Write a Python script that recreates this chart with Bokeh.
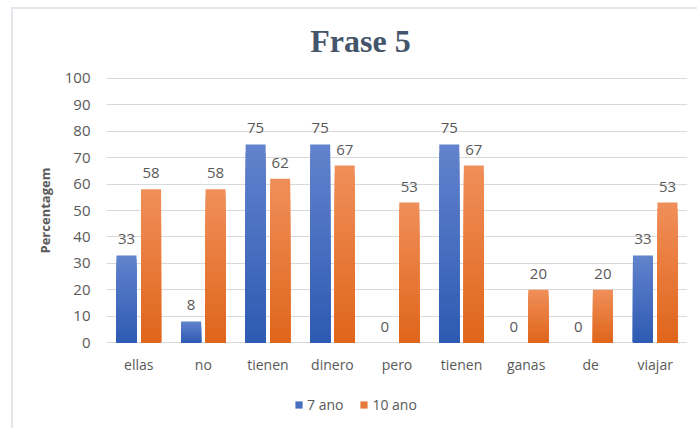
from bokeh.plotting import figure
from bokeh.models import ColumnDataSource, FixedTicker, Legend, LegendItem, Label
from bokeh.transform import dodge
from bokeh.core.properties import value
from bokeh.embed import file_html
from bokeh.resources import INLINE

title_text = "Frase 5"
categories = ["ellas", "no", "tienen", "dinero", "pero", "tienen", "ganas", "de", "viajar"]
series_names = ["7 ano", "10 ano"]
values_7 = [33, 8, 75, 75, 0, 75, 0, 0, 33]
values_10 = [58, 58, 62, 67, 53, 67, 20, 20, 53]
y_ticks = [0, 10, 20, 30, 40, 50, 60, 70, 80, 90, 100]
y_label = "Percentagem"

# gradient ends (bottom, top) for each series
BLUE_GRAD = ("#2E5AB2", "#6283CD")
ORANGE_GRAD = ("#DF651A", "#F08F5A")
TXT = "#595959"
GRID = "#D9D9D9"
FONT = "Open Sans"
N_LAYERS = 24


def mix(c1, c2, t):
    a = [int(c1[i:i + 2], 16) for i in (1, 3, 5)]
    b = [int(c2[i:i + 2], 16) for i in (1, 3, 5)]
    return "#%02x%02x%02x" % tuple(round(a[k] + (b[k] - a[k]) * t) for k in range(3))


def gradient_source(vals, grad):
    # each bar is drawn as overlapping layers from 0 up to a fraction of its value,
    # tallest (lightest) first, so no seams appear between colour bands
    d = dict(x=[], top=[], color=[])
    for k in range(N_LAYERS):
        frac = (N_LAYERS - k) / N_LAYERS
        t = (N_LAYERS - k - 0.5) / N_LAYERS
        for i, v in enumerate(vals):
            d["x"].append(i)
            d["top"].append(v * frac)
            d["color"].append(mix(grad[0], grad[1], t))
    return ColumnDataSource(d)


xs = list(range(len(categories)))
src = ColumnDataSource(dict(
    x=xs,
    base=[0] * len(categories),
    cat=categories,
    v7=values_7,
    v10=values_10,
    l7=[str(v) for v in values_7],
    l10=[str(v) for v in values_10],
))

p = figure(width=697, height=428, output_backend="svg", toolbar_location=None,
           x_range=(-0.5, len(categories) - 0.5), y_range=(-29.5, 129.5),
           min_border_left=106, min_border_right=10, min_border_top=0, min_border_bottom=8)
p.outline_line_color = None
p.background_fill_color = None
p.border_fill_color = None
p.styles = {
    "background-color": "white",
    "background-image": "linear-gradient(#E3E6EA, #E3E6EA), linear-gradient(#E3E6EA, #E3E6EA)",
    "background-size": "2px 100%, 100% 2px",
    "background-position": "11px 7px, 11px 7px",
    "background-repeat": "no-repeat",
}

off = 0.19
bw = 0.31
s7 = gradient_source(values_7, BLUE_GRAD)
s10 = gradient_source(values_10, ORANGE_GRAD)
r7 = p.vbar(x=dodge("x", -off), bottom=0, top="top", width=bw, source=s7,
            fill_color="color", line_color=None)
r10 = p.vbar(x=dodge("x", off), bottom=0, top="top", width=bw, source=s10,
             fill_color="color", line_color=None)

p.text(x=dodge("x", -off), y="v7", text="l7", source=src, text_align="center",
       text_baseline="bottom", y_offset=-11, text_font=value(FONT), text_font_size="15px",
       text_color=TXT)
p.text(x=dodge("x", off), y="v10", text="l10", source=src, text_align="center",
       text_baseline="bottom", y_offset=-11, text_font=value(FONT), text_font_size="15px",
       text_color=TXT)

# category labels under the zero line
p.text(x="x", y="base", text="cat", source=src, text_align="center", text_baseline="middle",
       y_offset=22, text_font=value(FONT), text_font_size="14px", text_color=TXT)

p.xaxis.visible = False

p.yaxis.ticker = FixedTicker(ticks=y_ticks)
p.yaxis.axis_line_color = None
p.yaxis.major_tick_line_color = None
p.yaxis.minor_tick_line_color = None
p.yaxis.major_tick_out = 0
p.yaxis.major_tick_in = 0
p.yaxis.major_label_text_font = FONT
p.yaxis.major_label_text_font_size = "15px"
p.yaxis.major_label_text_color = TXT
p.yaxis.major_label_standoff = 16
p.yaxis.axis_label = y_label
p.yaxis.axis_label_text_font = FONT
p.yaxis.axis_label_text_font_size = "13px"
p.yaxis.axis_label_text_font_style = "bold"
p.yaxis.axis_label_text_color = TXT
p.yaxis.axis_label_standoff = 8

p.xgrid.grid_line_color = None
p.ygrid.ticker = FixedTicker(ticks=y_ticks)
p.ygrid.grid_line_color = GRID
p.ygrid.grid_line_width = 1

mid = (N_LAYERS // 2) * len(categories)
legend = Legend(items=[LegendItem(label=series_names[0], renderers=[r7], index=mid),
                       LegendItem(label=series_names[1], renderers=[r10], index=mid)],
                orientation="horizontal", location=(188, 6),
                label_text_font=FONT, label_text_font_size="14px", label_text_color=TXT,
                glyph_width=9, glyph_height=9, spacing=16, label_standoff=4,
                border_line_color=None, background_fill_alpha=0, padding=4, margin=0)
p.add_layout(legend, "center")

p.add_layout(Label(x=254, y=380, x_units="screen", y_units="screen", text=title_text,
                   text_font="Liberation Serif", text_font_style="bold", text_font_size="32px",
                   text_color="#44546A", text_align="center", text_baseline="middle"))

open("out.html", "w").write(file_html(p, INLINE))
